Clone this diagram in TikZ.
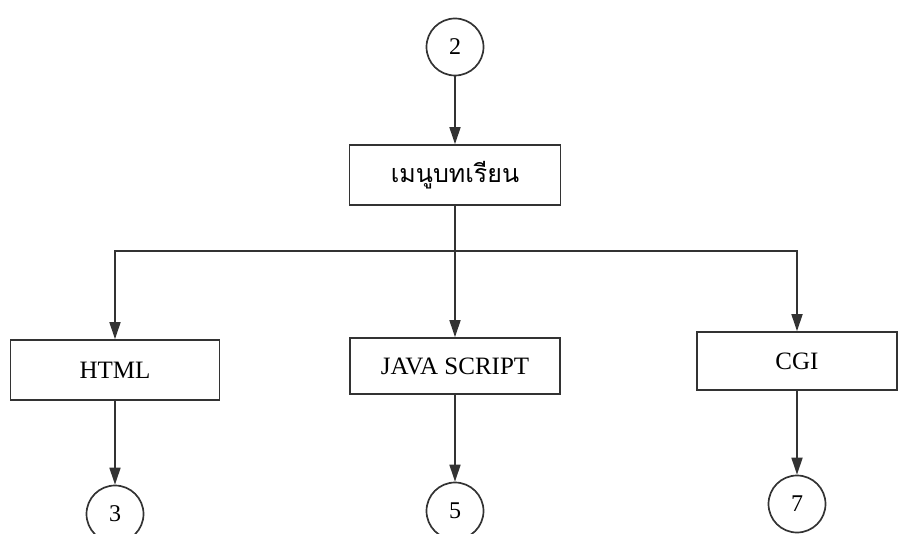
\documentclass[tikz,border=0pt]{standalone}
\usepackage{fontspec}
\setmainfont{Liberation Serif}
\newfontfamily\thaifont[Script=Thai]{Loma}
\usetikzlibrary{arrows.meta}
\begin{document}
\begin{tikzpicture}[x=1pt, y=-1pt, line width=1.7pt, draw=black!80,
    page/.style = {shape=rectangle, draw, align=center, font=\fontsize{25}{28}\selectfont},
    link/.style = {shape=circle, draw, inner sep=0pt, minimum size=57pt, font=\fontsize{24}{26}\selectfont},
    flow/.style = {draw, -{Triangle[length=17pt, width=11pt]}}]
    \useasboundingbox (0,0) rectangle (899,534);
    \node[link] (start) at (455,47) {2};
    \node[page, minimum width=211pt, minimum height=60pt] (menu) at (455,175) {\thaifont เมนูบทเรียน};
    \node[page, minimum width=209pt, minimum height=60pt] (html) at (115,370) {HTML};
    \node[page, minimum width=210pt, minimum height=56pt] (java) at (455,366) {JAVA SCRIPT};
    \node[page, minimum width=200pt, minimum height=58pt] (cgi) at (797,361) {CGI};
    \node[link] (three) at (115,514) {3};
    \node[link] (five) at (455,511) {5};
    \node[link] (seven) at (797,504) {7};
    \path[flow] (start) edge (menu);
    \path[flow] (menu.south) -- ++(0,45) -| (html.north);
    \path[flow] (menu.south) -- ++(0,45) -| (cgi.north);
    \path[flow] (menu) edge (java);
    \path[flow] (html) edge (three)
                (java) edge (five)
                (cgi) edge (seven);
\end{tikzpicture}
\end{document}
